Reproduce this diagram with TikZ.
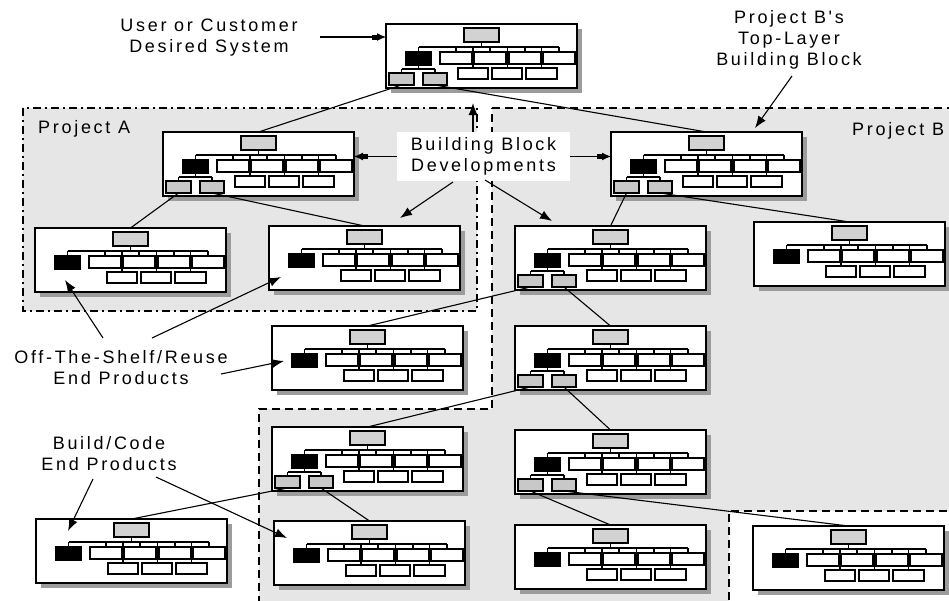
\documentclass[tikz,border=0pt]{standalone}
\usepackage{fontspec}
\setmainfont{Liberation Sans}
\newfontfamily\lblfont[LetterSpace=15]{Liberation Sans}
\usetikzlibrary{arrows.meta,calc}
\definecolor{regiongray}{HTML}{E6E6E6}
\definecolor{shadowgray}{HTML}{9C9C9C}
\definecolor{sysgray}{HTML}{D2D2D2}
\definecolor{subgray}{HTML}{C8C8C8}
\newcommand\bbcore{%
  \fill[shadowgray] (5,5) rectangle (196,69);
  \node[bbouter, anchor=north west] (-box) at (0,0) {};
  \draw[bbline] (95.5,18) -- (95.5,23) (32.5,23) -- (173,23)
     (32.5,23) -- (32.5,28) (70,23) -- (70,28) (104,23) -- (104,28)
     (139,23) -- (139,28) (173,23) -- (173,28)
     (87,23) -- (87,44) (121.5,23) -- (121.5,44) (155.5,23) -- (155.5,44);
  \draw[bbline, fill=sysgray] (78,4) rectangle (113,18);
  \draw[bbline, fill=black] (20,28) rectangle (45,41);
  \foreach \a/\b in {54/86,88/120,123/155,157/189}
    \draw[bbline, fill=white] (\a,28) rectangle (\b,40);
  \foreach \a/\b in {72/102,106/136,140/171}
    \draw[bbline, fill=white] (\a,44) rectangle (\b,55);
}
\newcommand\bbsubpart{%
  \draw[bbline] (32.5,41) -- (32.5,45) (15.5,45) -- (49,45)
     (15.5,45) -- (15.5,49) (49,45) -- (49,49);
  \draw[bbline, fill=subgray] (3,49) rectangle (28,61);
  \draw[bbline, fill=subgray] (37,49) rectangle (61,61);
  \coordinate (-g1) at (15.5,61);
  \coordinate (-g2) at (49,61);
}
\tikzset{
  bbouter/.style={draw, fill=white, line width=1.8pt, inner sep=0pt, outer sep=0pt,
    minimum width=191pt, minimum height=64pt},
  bbline/.style={line width=1.4pt},
  bb/.pic={\bbcore},
  bbsub/.pic={\bbcore\bbsubpart},
  conn/.style={line width=1.1pt},
  arr/.style={line width=1.1pt, -{Latex[length=12pt,width=9pt]}},
  harr/.style={line width=1.1pt, -{Rectangle[length=5pt,width=5pt]Latex[length=9pt,width=8pt]}},
  lbl/.style={font=\lblfont\fontsize{18}{21}\selectfont, align=center, inner sep=0pt},
  bdash/.style={line width=2.2pt, dash pattern=on 8pt off 5pt},
  adash/.style={line width=2pt, dash pattern=on 8pt off 4pt on 2pt off 4pt},
}
\begin{document}
\begin{tikzpicture}[x=1pt,y=-1pt]
\useasboundingbox (0,0) rectangle (949,600);
\clip (0,0) rectangle (949,600);
% regions
\fill[regiongray] (492,108) -- (960,108) -- (960,511) -- (729,511) -- (729,610)
   -- (259,610) -- (259,409) -- (492,409) -- cycle;
\draw[bdash] (492,108) -- (960,108) -- (960,511) -- (729,511) -- (729,610)
   -- (259,610) -- (259,409) -- (492,409) -- cycle;
\draw[adash, fill=regiongray] (23,108) rectangle (477,311);
% blocks
\pic (top)    at (386,24)  {bbsub};
\pic (amid)   at (163,132) {bbsub};
\pic (all)    at (35,228)  {bb};
\pic (alr)    at (269,226) {bb};
\pic (btop)   at (611,132) {bbsub};
\pic (b2)     at (515,226) {bbsub};
\pic (bright) at (754,222) {bb};
\pic (ots)    at (272,326) {bb};
\pic (b3)     at (515,326) {bbsub};
\pic (lsub)   at (272,427) {bbsub};
\pic (b4)     at (515,430) {bbsub};
\pic (bl)     at (36,519)  {bb};
\pic (bot)    at (274,521) {bb};
\pic (b5)     at (515,525) {bb};
\pic (br)     at (753,526) {bb};
% connectors
\draw[conn] (top-g1) -- (amid-box.north);
\draw[conn] (top-g2) -- (btop-box.north);
\draw[conn] (amid-g1) -- (all-box.north);
\draw[conn] (amid-g2) -- (alr-box.north);
\draw[conn] (btop-g1) -- (b2-box.north);
\draw[conn] (btop-g2) -- (bright-box.north);
\draw[conn] (b2-g1) -- (ots-box.north);
\draw[conn] (b2-g2) -- (b3-box.north);
\draw[conn] (b3-g1) -- (lsub-box.north);
\draw[conn] (b3-g2) -- (b4-box.north);
\draw[conn] (lsub-g1) -- (bl-box.north);
\draw[conn] (lsub-g2) -- (bot-box.north);
\draw[conn] (b4-g1) -- (b5-box.north);
\draw[conn] (b4-g2) -- (br-box.north);
% labels
\node[lbl] (user) at (209,38) {User or Customer\\Desired System};
\node[lbl] (tlb) at (789,39.5) {Project B's\\Top-Layer\\Building Block};
\node[lbl, anchor=base west] (pa) at (38,133) {Project A};
\node[lbl, anchor=base west] (pb) at (852,135) {Project B};
\node[lbl, fill=white, minimum width=173pt, minimum height=49pt] (bbd) at (483.5,156.5) {Building Block\\Developments};
\node[lbl] (ots-lbl) at (121,368) {Off-The-Shelf/Reuse\\End Products};
\node[lbl] (bc-lbl) at (109,454) {Build/Code\\End Products};
% annotation arrows
\coordinate (u0) at (320,37);
\draw[harr] (u0) -- (top-box.west |- u0);
\coordinate (t0) at (792,76); \coordinate (t1) at (755,128);
\draw[arr] (t0) -- (t1);
\coordinate (up1) at (473,103);
\draw[arr] (bbd.north -| up1) -- (up1);
\draw[harr] (bbd.west) -- (amid-box.east |- bbd.west);
\draw[harr] (bbd.east) -- (btop-box.west |- bbd.east);
\coordinate (dl0) at (453,182); \coordinate (dl1) at (400,218);
\draw[arr] (dl0) -- (dl1);
\coordinate (dr0) at (485,180); \coordinate (dr1) at (552,221);
\draw[arr] (dr0) -- (dr1);
\coordinate (o10) at (103,338); \coordinate (o11) at (65,280);
\draw[arr] (o10) -- (o11);
\coordinate (o20) at (152,338); \coordinate (o21) at (281,277);
\draw[arr] (o20) -- (o21);
\coordinate (o30) at (221,374); \coordinate (o31) at (284,361);
\draw[arr] (o30) -- (o31);
\coordinate (c10) at (93,479); \coordinate (c11) at (68,531);
\draw[arr] (c10) -- (c11);
\coordinate (c20) at (156,477); \coordinate (c21) at (287,538);
\draw[arr] (c20) -- (c21);
\end{tikzpicture}
\end{document}
